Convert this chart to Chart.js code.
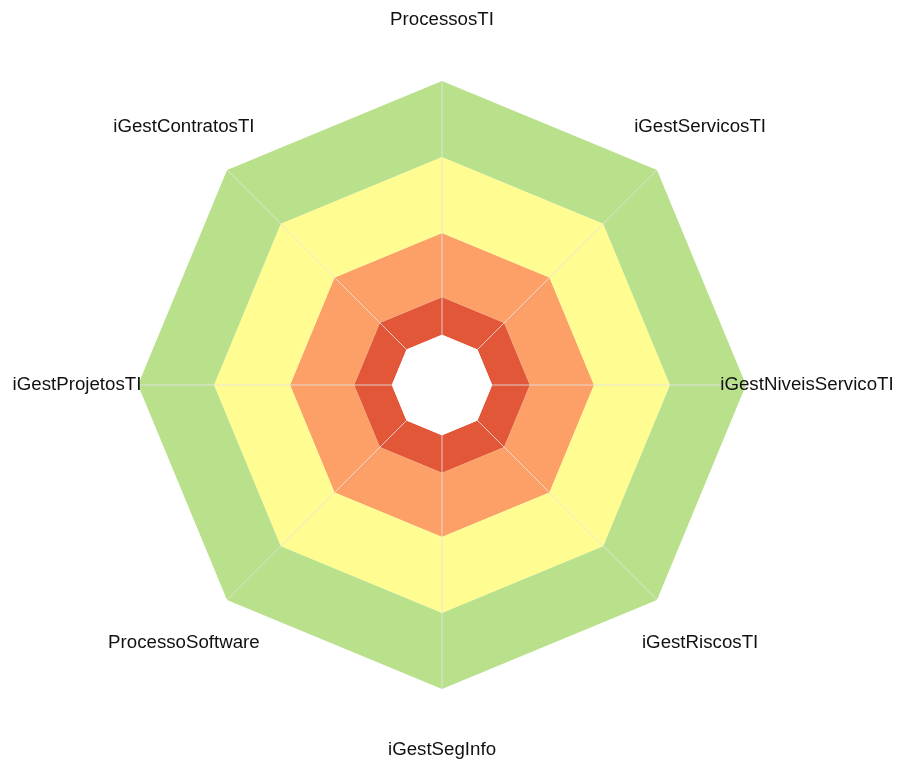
<!DOCTYPE html>
<html>
<head>
<meta charset="utf-8">
<script src="https://cdn.jsdelivr.net/npm/chart.js@4/dist/chart.umd.min.js"></script>
<style>
  html, body { margin: 0; padding: 0; background: #fff; }
  #wrap { width: 897px; height: 761px; }
</style>
</head>
<body>
<div id="wrap"><canvas id="radar"></canvas></div>
<script>
// eixos do radar, em sentido horário a partir do topo
const categorias = [
    "ProcessosTI",
    "iGestServicosTI",
    "iGestNiveisServicoTI",
    "iGestRiscosTI",
    "iGestSegInfo",
    "ProcessoSoftware",
    "iGestProjetosTI",
    "iGestContratosTI"
];

// limites das faixas (mesmo valor em todos os eixos)
const faixaVerde = [100, 100, 100, 100, 100, 100, 100, 100];
const faixaAmarela = [75, 75, 75, 75, 75, 75, 75, 75];
const faixaLaranja = [50, 50, 50, 50, 50, 50, 50, 50];
const faixaVermelha = [29, 29, 29, 29, 29, 29, 29, 29];
const miolo = [16.5, 16.5, 16.5, 16.5, 16.5, 16.5, 16.5, 16.5];

// buraco branco no meio + rótulos centralizados fora do polígono
const faixasPlugin = {
    id: "faixas",
    afterDraw(chart) {
        const ctx = chart.ctx;
        const pts = chart.getDatasetMeta(4).data;
        ctx.save();
        ctx.beginPath();
        pts.forEach((p, i) => i === 0 ? ctx.moveTo(p.x, p.y) : ctx.lineTo(p.x, p.y));
        ctx.closePath();
        ctx.fillStyle = "#ffffff";
        ctx.fill();

        const r = chart.scales.r;
        ctx.font = "18.7px 'Liberation Sans', Arial, sans-serif";
        ctx.fillStyle = "#111111";
        ctx.textAlign = "center";
        ctx.textBaseline = "middle";
        categorias.forEach((txt, i) => {
            const pos = r.getPointPosition(i, r.drawingArea + 61);
            ctx.fillText(txt, pos.x, pos.y);
        });
        ctx.restore();
    }
};

function faixa(valores, cor, fill, borda) {
    return {
        data: valores,
        backgroundColor: cor,
        borderColor: borda || "rgba(0,0,0,0)",
        borderWidth: borda ? 1 : 0,
        pointRadius: 0,
        fill: fill
    };
}

new Chart(document.getElementById("radar"), {
    type: "radar",
    data: {
        labels: categorias,
        datasets: [
            faixa(faixaVerde, "rgb(185,224,139)", "+1"),
            faixa(faixaAmarela, "rgb(255,253,145)", "+1"),
            faixa(faixaLaranja, "rgb(253,160,104)", "+1"),
            faixa(faixaVermelha, "rgb(226,87,56)", "+1", "rgba(240,175,150,0.9)"),
            faixa(miolo, "rgba(0,0,0,0)", false)
        ]
    },
    options: {
        responsive: true,
        maintainAspectRatio: false,
        animation: false,
        layout: { padding: { left: 138, right: 151, top: 81, bottom: 72 } },
        plugins: {
            legend: { display: false },
            tooltip: { enabled: false }
        },
        elements: { line: { tension: 0 } },
        scales: {
            r: {
                min: 0,
                max: 100,
                ticks: { display: false, z: 1 },
                grid: { display: false, z: 1 },
                pointLabels: { display: false },
                angleLines: { display: true, color: "rgba(228,228,228,0.85)", lineWidth: 1 }
            }
        }
    },
    plugins: [faixasPlugin]
});
</script>
</body>
</html>
